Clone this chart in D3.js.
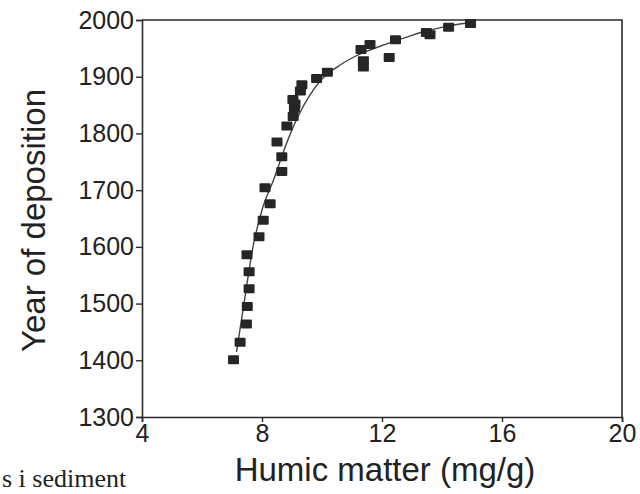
<!DOCTYPE html>
<html>
<head>
<meta charset="utf-8">
<script src="https://cdn.jsdelivr.net/npm/d3@7"></script>
<style>
  body { margin: 0; background: #fff; }
  svg { display: block; }
</style>
</head>
<body>
<div id="wrapper"></div>
<script>
/// Data ///
const humic = [7.05, 7.27, 7.48, 7.51, 7.57, 7.57, 7.5, 7.9, 8.04, 8.27, 8.1, 8.66, 8.66, 8.5, 8.83,
  9.04, 9.08, 9.03, 9.1, 9.28, 9.33, 9.82, 10.18, 11.3, 11.6, 11.38, 11.38, 12.24, 12.45,
  13.48, 13.6, 14.22, 14.95];
const year = [1401, 1432, 1464, 1495, 1526, 1556, 1586, 1618, 1647, 1676, 1704, 1733, 1759, 1785, 1813,
  1830, 1845, 1860, 1852, 1875, 1886, 1897, 1908, 1948, 1957, 1928, 1917, 1934, 1965,
  1978, 1974, 1987, 1994];

// fitted line
const fitHumic = [7.15, 7.4, 7.7, 8.0, 8.4, 8.8, 9.2, 9.6, 10.0, 10.5, 11.0, 11.5, 12.0, 12.5, 13.0, 13.5, 14.0, 14.5, 15.0];
const fitYear = [1415, 1500, 1600, 1665, 1720, 1780, 1830, 1868, 1896, 1917, 1933, 1945, 1955, 1964, 1973, 1981, 1987, 1992, 1996];

const xTicks = [4, 8, 12, 16, 20];
const yTicks = [1300, 1400, 1500, 1600, 1700, 1800, 1900, 2000];

/// Dimensions ///
const width = 640;
const height = 494;
const plot = { left: 142, right: 622, top: 20, bottom: 417 };
const ink = '#2b2b2b';
const sans = '"Liberation Sans", Arial, Helvetica, sans-serif';

const svg = d3.select("#wrapper").append("svg")
  .attr("width", width)
  .attr("height", height);

/// Scales ///
const x = d3.scaleLinear().domain([4, 20]).range([plot.left, plot.right]);
const y = d3.scaleLinear().domain([1300, 2000]).range([plot.bottom, plot.top]);

/// Axes ///
const yAxis = svg.append('g')
  .attr("transform", `translate(${plot.left}, 0)`)
  .call(d3.axisLeft(y).tickValues(yTicks).tickSize(6).tickPadding(2).tickFormat(d3.format("d")));
const xAxis = svg.append('g')
  .attr("transform", `translate(0, ${plot.bottom})`)
  .call(d3.axisBottom(x).tickValues(xTicks).tickSize(5).tickPadding(2));

[yAxis, xAxis].forEach(g => {
  g.select(".domain").attr("stroke", ink).attr("stroke-width", 1.6);
  g.selectAll(".tick line").attr("stroke", ink).attr("stroke-width", 1.4);
  g.selectAll(".tick text").attr("fill", "#222").style("font-family", sans).style("font-size", "25px");
});

// frame on top and right
svg.append("path")
  .attr("d", `M${plot.left},${plot.top}H${plot.right}V${plot.bottom}`)
  .attr("fill", "none")
  .attr("stroke", ink)
  .attr("stroke-width", 1.6);

/// Fitted curve ///
const fit = fitHumic.map((h, i) => [x(h), y(fitYear[i])]);
svg.append("path")
  .attr("d", d3.line().curve(d3.curveMonotoneX)(fit))
  .attr("fill", "none")
  .attr("stroke", "#444")
  .attr("stroke-width", 1.4);

/// Markers ///
const marks = humic.map((h, i) => ({ x: x(h), y: y(year[i]) }));
svg.selectAll("rect.mark")
  .data(marks)
  .join("rect")
    .attr("class", "mark")
    .attr("x", d => d.x - 5.5)
    .attr("y", d => d.y - 4.5)
    .attr("width", 11)
    .attr("height", 9)
    .attr("rx", 1)
    .attr("fill", "#262626");

/// Titles ///
svg.append("text")
  .attr("x", 385)
  .attr("y", 481)
  .attr("text-anchor", "middle")
  .attr("fill", "#222")
  .style("font-family", sans)
  .style("font-size", "33px")
  .text("Humic matter (mg/g)");

svg.append("text")
  .attr("transform", `translate(45, ${(plot.top + plot.bottom) / 2 + 2}) rotate(-90)`)
  .attr("text-anchor", "middle")
  .attr("fill", "#222")
  .style("font-family", sans)
  .style("font-size", "33px")
  .text("Year of deposition");

// scrap of page text caught in the scan
svg.append("text")
  .attr("x", 2)
  .attr("y", 487)
  .attr("fill", "#222")
  .style("font-family", '"Liberation Serif", "Times New Roman", serif')
  .style("font-size", "26px")
  .text("s i sediment");
</script>
</body>
</html>
